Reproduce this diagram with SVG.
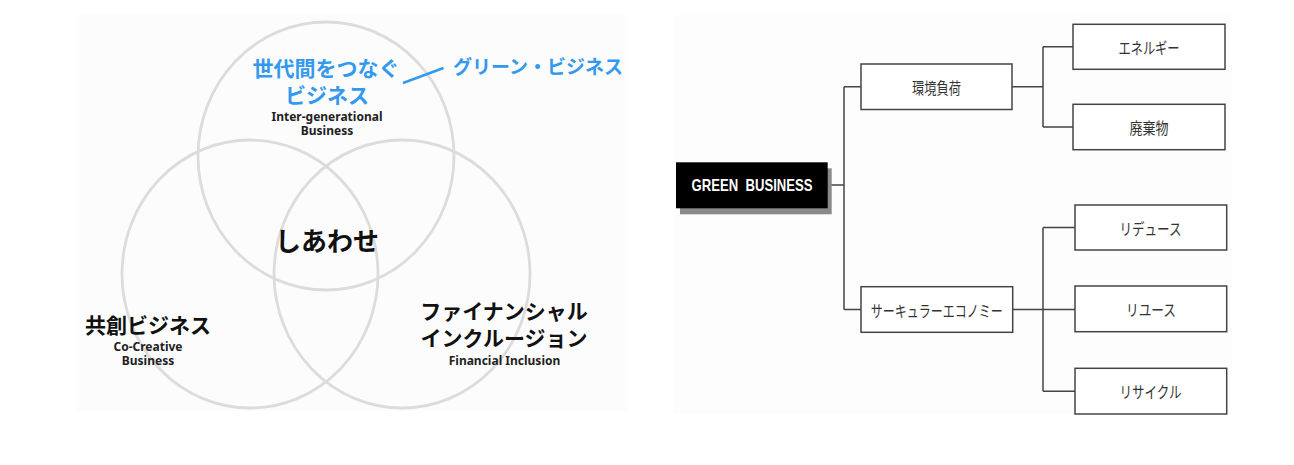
<svg xmlns="http://www.w3.org/2000/svg" width="1294" height="465" viewBox="0 0 1294 465">
<style>
.circ{fill:none;stroke:#dcdcdc;stroke-width:2.8}
.jpb{font-family:"Noto Sans CJK JP","Noto Sans",sans-serif;font-weight:700;text-anchor:middle;dominant-baseline:central}
.blue{fill:#3399ee}
.blk{fill:#111}
.en{font-family:"Noto Sans","Liberation Sans",sans-serif;font-weight:700;font-size:12px;fill:#222;text-anchor:middle}
.box{fill:#fff;stroke:#444;stroke-width:1.5}
.bt{font-family:"Noto Sans CJK JP","Noto Sans",sans-serif;font-size:16px;fill:#333;text-anchor:middle;dominant-baseline:central}
.ln{fill:none;stroke:#444;stroke-width:1.5}
</style>
<defs>
<clipPath id="panel"><rect x="78" y="15" width="548" height="396"/></clipPath>
</defs>
<rect width="1294" height="465" fill="#fff"/>
<rect x="78" y="15" width="548" height="396" fill="#fcfcfc"/>
<rect x="674" y="15" width="558" height="399" fill="#fdfdfd"/>

<g id="venn" clip-path="url(#panel)">
<g id="circle-top"><ellipse class="circ" cx="326" cy="156" rx="128" ry="134"/></g>
<g id="circle-left"><ellipse class="circ" cx="250" cy="274" rx="128" ry="134"/></g>
<g id="circle-right"><ellipse class="circ" cx="402" cy="274" rx="128" ry="134"/></g>
</g>

<g id="connectors">
<line x1="403" y1="83" x2="443.5" y2="68" stroke="#3399ee" stroke-width="2.5"/>
<path class="ln" d="M828 185H844M844 86.7V309.5M844 86.7H861M844 309.5H861"/>
<path class="ln" d="M1012 86.7H1043M1043 46.8V127M1043 46.8H1073M1043 127H1073"/>
<path class="ln" d="M1012.7 309.5H1075M1043 227.5V391.2M1043 227.5H1075M1043 391.2H1075"/>
</g>

<g id="node-intergen">
<text class="jpb blue" font-size="21"><tspan x="326" y="67">世代間をつなぐ</tspan><tspan x="327" y="94">ビジネス</tspan></text>
<text class="en"><tspan x="327" y="120.5">Inter-generational</tspan><tspan x="327" y="135">Business</tspan></text>
</g>
<g id="node-green-label">
<text class="jpb blue" x="538" y="65" font-size="19">グリーン・ビジネス</text>
</g>
<g id="node-center">
<text class="jpb blk" x="327" y="239" font-size="26">しあわせ</text>
</g>
<g id="node-cocreative">
<text class="jpb blk" x="148" y="323.5" font-size="21">共創ビジネス</text>
<text class="en"><tspan x="148" y="350.5">Co-Creative</tspan><tspan x="148" y="365">Business</tspan></text>
</g>
<g id="node-financial">
<text class="jpb blk" font-size="21"><tspan x="504" y="310">ファイナンシャル</tspan><tspan x="504" y="336.5">インクルージョン</tspan></text>
<text class="en" x="504.5" y="364.5">Financial Inclusion</text>
</g>

<g id="node-green-business">
<rect x="680" y="168.3" width="151.7" height="46" fill="#8a8a8a"/>
<rect x="676" y="162.3" width="151.7" height="46" fill="#000"/>
<text x="752" y="190.5" xml:space="preserve" font-family="'Liberation Sans','Noto Sans',sans-serif" font-weight="700" font-size="17" fill="#fff" text-anchor="middle" textLength="121" lengthAdjust="spacingAndGlyphs">GREEN  BUSINESS</text>
</g>
<g id="node-kankyo">
<rect class="box" x="861" y="64" width="151" height="45.5"/>
<text class="bt" x="936.5" y="86.7" textLength="49" lengthAdjust="spacingAndGlyphs">環境負荷</text>
</g>
<g id="node-energy">
<rect class="box" x="1073" y="24.3" width="152" height="45"/>
<text class="bt" x="1149" y="46.8" textLength="61" lengthAdjust="spacingAndGlyphs">エネルギー</text>
</g>
<g id="node-waste">
<rect class="box" x="1073" y="104.3" width="152" height="45.4"/>
<text class="bt" x="1149" y="127" textLength="39" lengthAdjust="spacingAndGlyphs">廃棄物</text>
</g>
<g id="node-circular">
<rect class="box" x="861" y="286.7" width="151.7" height="45.6"/>
<text class="bt" x="936.7" y="309.5" textLength="132" lengthAdjust="spacingAndGlyphs">サーキュラーエコノミー</text>
</g>
<g id="node-reduce">
<rect class="box" x="1075" y="205" width="151.7" height="45"/>
<text class="bt" x="1150.5" y="227.5" textLength="62" lengthAdjust="spacingAndGlyphs">リデュース</text>
</g>
<g id="node-reuse">
<rect class="box" x="1075" y="286" width="151.7" height="45.7"/>
<text class="bt" x="1151" y="308.8" textLength="50" lengthAdjust="spacingAndGlyphs">リユース</text>
</g>
<g id="node-recycle">
<rect class="box" x="1075" y="368.3" width="151.7" height="45.7"/>
<text class="bt" x="1150.5" y="391.2" textLength="62" lengthAdjust="spacingAndGlyphs">リサイクル</text>
</g>
</svg>
